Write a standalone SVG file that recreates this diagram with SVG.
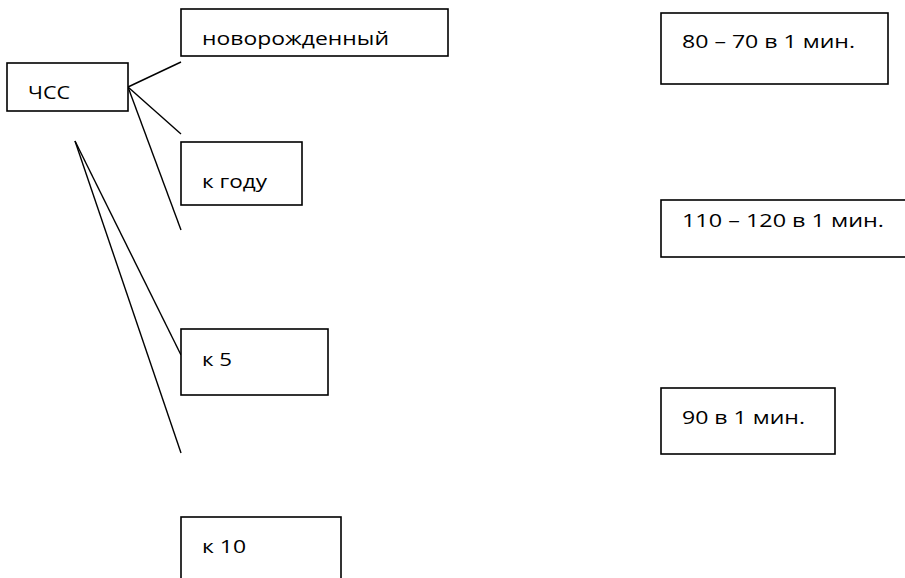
<svg xmlns="http://www.w3.org/2000/svg" width="905" height="578" viewBox="0 0 905 578">
<style>
.box{fill:#fff;stroke:#000;stroke-width:1.6}
.t{font-family:"Open Sans","Noto Sans","Liberation Sans",sans-serif;font-size:19px;fill:#000}
.c line{stroke:#000;stroke-width:1.4}
</style>
<rect width="905" height="578" fill="#fff"/>
<g class="c" id="connectors">
<line x1="128" y1="87" x2="181" y2="62"/>
<line x1="128" y1="87" x2="181" y2="134"/>
<line x1="128" y1="87" x2="181" y2="230"/>
<line x1="75" y1="141" x2="181" y2="355"/>
<line x1="75" y1="141" x2="181" y2="453"/>
</g>
<g id="chss"><rect class="box" x="7" y="63" width="121" height="48"/><text class="t" x="28" y="99" textLength="42" lengthAdjust="spacingAndGlyphs">ЧСС</text></g>
<g id="newborn"><rect class="box" x="181" y="9" width="267" height="47"/><text class="t" x="202" y="45" textLength="187" lengthAdjust="spacingAndGlyphs">новорожденный</text></g>
<g id="year"><rect class="box" x="181" y="142" width="121" height="63"/><text class="t" x="202" y="188" textLength="65" lengthAdjust="spacingAndGlyphs">к году</text></g>
<g id="k5"><rect class="box" x="181" y="329" width="147" height="66"/><text class="t" x="202" y="366" textLength="30" lengthAdjust="spacingAndGlyphs">к 5</text></g>
<g id="k10"><rect class="box" x="181" y="517" width="160" height="70"/><text class="t" x="202" y="553" textLength="44" lengthAdjust="spacingAndGlyphs">к 10</text></g>
<g id="r80"><rect class="box" x="661" y="13" width="227" height="71"/><text class="t" x="682" y="48" textLength="173" lengthAdjust="spacingAndGlyphs">80 – 70 в 1 мин.</text></g>
<g id="r110"><rect class="box" x="661" y="200" width="250" height="57"/><text class="t" x="682" y="227" textLength="202" lengthAdjust="spacingAndGlyphs">110 – 120 в 1 мин.</text></g>
<g id="r90"><rect class="box" x="661" y="388" width="174" height="66"/><text class="t" x="682" y="424" textLength="123" lengthAdjust="spacingAndGlyphs">90 в 1 мин.</text></g>
</svg>
